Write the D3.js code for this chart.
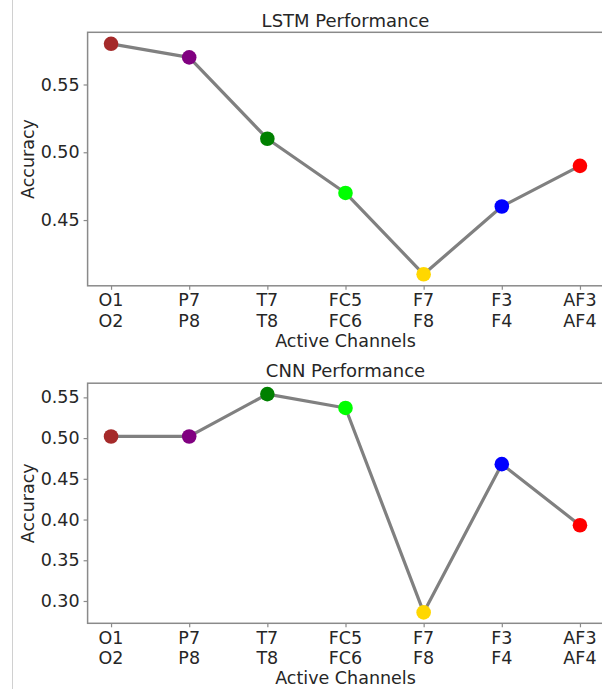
<!DOCTYPE html>
<html>
<head>
<meta charset="utf-8">
<script src="https://cdn.jsdelivr.net/npm/d3@7"></script>
<style>
  body { margin: 0; background: #fff; }
  svg { display: block; }
</style>
</head>
<body>
<script>
const channelsTop = ["O1", "P7", "T7", "FC5", "F7", "F3", "AF3"];
const channelsBottom = ["O2", "P8", "T8", "FC6", "F8", "F4", "AF4"];
const pointColors = ["#a52a2a", "#800080", "#008000", "#00ff00", "#ffd700", "#0000ff", "#ff0000"];

const lstmAccuracy = [0.58, 0.57, 0.51, 0.47, 0.41, 0.46, 0.49];
const cnnAccuracy = [0.502, 0.502, 0.554, 0.537, 0.286, 0.468, 0.393];

const lstmTicks = [0.45, 0.50, 0.55];
const cnnTicks = [0.30, 0.35, 0.40, 0.45, 0.50, 0.55];

const width = 602;
const height = 689;
const font = "DejaVu Sans";
const textColor = "#262626";
const spineColor = "#8a8a8a";

const svg = d3.select("body")
    .append("svg")
    .attr("width", width)
    .attr("height", height);

// thin crop line at the left edge of the original picture
svg.append("line")
    .attr("x1", 12.5).attr("x2", 12.5)
    .attr("y1", 0).attr("y2", height)
    .attr("stroke", "#d0d0d0")
    .attr("stroke-width", 1);

function panel(title, values, ticks, top, bottom) {
    const left = 87.6, right = 603.4;

    // matplotlib-style 5% margins
    const lo = d3.min(values), hi = d3.max(values);
    const pad = (hi - lo) * 0.05;

    const x = d3.scaleLinear()
        .domain([-0.3, values.length - 1 + 0.3])
        .range([left, right]);

    const y = d3.scaleLinear()
        .domain([lo - pad, hi + pad])
        .range([bottom, top]);

    const g = svg.append("g");

    g.append("rect")
        .attr("x", left).attr("y", top)
        .attr("width", right - left).attr("height", bottom - top)
        .attr("fill", "none")
        .attr("stroke", spineColor)
        .attr("stroke-width", 1.5);

    // y axis
    const yAxis = g.append("g")
        .attr("transform", `translate(${left},0)`)
        .call(d3.axisLeft(y).tickValues(ticks).tickFormat(d3.format(".2f")).tickSize(4).tickPadding(4));
    yAxis.select(".domain").remove();
    yAxis.selectAll(".tick line").attr("stroke", spineColor).attr("stroke-width", 1.2);
    yAxis.selectAll(".tick text")
        .attr("fill", textColor)
        .attr("font-family", font)
        .attr("font-size", "17.5px");

    // x axis
    const xAxis = g.append("g")
        .attr("transform", `translate(0,${bottom})`)
        .call(d3.axisBottom(x).tickValues(d3.range(values.length)).tickFormat("").tickSize(4));
    xAxis.select(".domain").remove();
    xAxis.selectAll(".tick line").attr("stroke", spineColor).attr("stroke-width", 1.2);

    const labels = g.append("g")
        .selectAll("text")
        .data(channelsTop)
        .enter()
        .append("text")
        .attr("x", (d, i) => x(i))
        .attr("y", bottom + 20.5)
        .attr("text-anchor", "middle")
        .attr("fill", textColor)
        .attr("font-family", font)
        .attr("font-size", "17.5px");
    labels.append("tspan")
        .attr("x", (d, i) => x(i))
        .text(d => d);
    labels.append("tspan")
        .attr("x", (d, i) => x(i))
        .attr("dy", 20.3)
        .text((d, i) => channelsBottom[i]);

    g.append("text")
        .attr("x", (left + right) / 2)
        .attr("y", bottom + 60.8)
        .attr("text-anchor", "middle")
        .attr("fill", textColor)
        .attr("font-family", font)
        .attr("font-size", "17.5px")
        .text("Active Channels");

    g.append("text")
        .attr("transform", `translate(33.5,${(top + bottom) / 2}) rotate(-90)`)
        .attr("text-anchor", "middle")
        .attr("fill", textColor)
        .attr("font-family", font)
        .attr("font-size", "17.5px")
        .text("Accuracy");

    g.append("text")
        .attr("x", (left + right) / 2)
        .attr("y", top - 5.8)
        .attr("text-anchor", "middle")
        .attr("fill", textColor)
        .attr("font-family", font)
        .attr("font-size", "18px")
        .text(title);

    const line = d3.line()
        .x((d, i) => x(i))
        .y(d => y(d));

    g.append("path")
        .datum(values)
        .attr("d", line)
        .attr("fill", "none")
        .attr("stroke", "#808080")
        .attr("stroke-width", 3.2)
        .attr("stroke-linejoin", "round");

    g.selectAll("circle")
        .data(values)
        .enter()
        .append("circle")
        .attr("cx", (d, i) => x(i))
        .attr("cy", d => y(d))
        .attr("r", 7.3)
        .attr("fill", (d, i) => pointColors[i]);
}

panel("LSTM Performance", lstmAccuracy, lstmTicks, 32.3, 285.8);
panel("CNN Performance", cnnAccuracy, cnnTicks, 383.2, 623.3);
</script>
</body>
</html>
